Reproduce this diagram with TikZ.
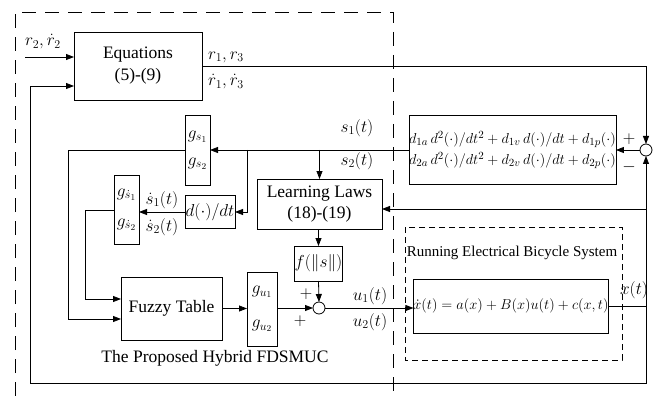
\documentclass[tikz,border=0pt]{standalone}
\usepackage{fontspec}
\setmainfont{Liberation Serif}
\usetikzlibrary{arrows.meta}
\begin{document}
\begin{tikzpicture}[x=1pt,y=-1pt,
  every node/.style={inner sep=0pt,outer sep=0pt,font=\fontsize{17.5}{20}\selectfont},
  blk/.style={draw,line width=0.8pt,fill=white},
  sumc/.style={draw,line width=0.8pt,circle,minimum size=12pt,fill=white},
  conn/.style={line width=0.8pt},
  arr/.style={conn,-{Triangle[length=8pt,width=6pt]}},
  lbl/.style={font=\fontsize{18}{20}\selectfont},
  small/.style={font=\fontsize{15.5}{18}\selectfont}
]
\useasboundingbox (0,0) rectangle (657,396);
% outer dashed region
\draw[conn,dash pattern=on 14pt off 9pt] (15,396) -- (15,12) -- (393,12) -- (393,396);
% system dashed box
\draw[conn,dash pattern=on 6pt off 4pt] (405,227) rectangle (622,360);

% blocks
\node[blk,minimum width=128pt,minimum height=68pt,align=center] (eq) at (138,66) {Equations\\[2pt](5)-(9)};
\node[blk,minimum width=25pt,minimum height=70pt,align=center,lbl] (gs) at (197.5,150) {$g_{s_1}$\\[7pt]$g_{s_2}$};
\node[blk,minimum width=25pt,minimum height=69pt,align=center,lbl] (gsd) at (126.5,209.5) {$g_{\dot s_1}$\\[10pt]$g_{\dot s_2}$};
\node[blk,minimum width=50pt,minimum height=33pt,lbl] (ddt) at (210,212) {$d(\cdot)/dt$};
\node[blk,minimum width=125pt,minimum height=50pt,align=center] (LL) at (319.5,204) {Learning Laws\\[1pt](18)-(19)};
\node[blk,minimum width=203pt,minimum height=69pt,align=left,small] (db) at (512.5,150)
  {$d_{1a}\,d^2(\cdot)/dt^2+d_{1v}\,d(\cdot)/dt+d_{1p}(\cdot)$\\[3pt]$d_{2a}\,d^2(\cdot)/dt^2+d_{2v}\,d(\cdot)/dt+d_{2p}(\cdot)$};
\node[sumc] (s1) at (646,150) {};
\node[blk,minimum width=41pt,minimum height=35pt,lbl] (fb) at (318.5,263.5) {$f(\|s\|)$};
\node[sumc] (s2) at (319,308) {};
\node[blk,minimum width=101pt,minimum height=63pt] (fz) at (171.5,308.5) {Fuzzy Table};
\node[blk,minimum width=30pt,minimum height=74pt,align=center,lbl] (gu) at (262,309) {$g_{u_1}$\\[14pt]$g_{u_2}$};
\node[blk,minimum width=176pt,minimum height=54pt,small] (sys) at (511,306) {$\dot x(t)=a(x)+B(x)u(t)+c(x,t)$};

% coordinates
\coordinate (in1) at (25,57);
\coordinate (eqR) at (646,66);
\coordinate (jx) at (646,306);
\coordinate (jLL) at (646,209);
\coordinate (bR) at (646,383);
\coordinate (bL) at (30,383);
\coordinate (eqIn) at (30,86);
\coordinate (gsL) at (68,150);
\coordinate (j1) at (247,150);
\coordinate (j2) at (319.5,150);
\coordinate (gsdL) at (85,210);

% connectors
\draw[arr] (in1) -- (in1 -| eq.west);
\draw[arr] (eq.east) -- (eqR) -- (s1.north);
\draw[arr] (s1.west) -- (db.east);
\draw[arr] (db.west) -- (gs.east);
\draw[arr] (j1) |- (ddt.east);
\draw[arr] (j2) -- (LL.north);
\draw[arr] (gs.west) -- (gsL) |- (fz.west |- 0,319);
\draw[arr] (ddt.west) -- (gsd.east |- ddt.west);
\draw[arr] (gsd.west |- gsdL) -- (gsdL) |- (fz.west |- 0,299);
\draw[arr] (fz.east) -- (gu.west |- fz.east);
\draw[arr] (gu.east |- s2.west) -- (s2.west);
\draw[arr] (LL.south -| fb.north) -- (fb.north);
\draw[arr] (fb.south) -- (s2.north);
\draw[arr] (s2.east) -- (sys.west |- s2.east);
\draw[conn] (sys.east) -- (jx);
\draw[arr] (jx) -- (s1.south);
\draw[arr] (jLL) -- (jLL -| LL.east);
\draw[arr] (jx) -- (bR) -- (bL) -- (eqIn) -- (eqIn -| eq.west);

% labels
\node[lbl] (lr2) at (43,42) {$r_2,\dot r_2$};
\node[lbl] (lr1) at (226,57) {$r_1,r_3$};
\node[lbl] (lr1d) at (226,82) {$\dot r_1,\dot r_3$};
\node[lbl] (ls1) at (357,128) {$s_1(t)$};
\node[lbl] (ls2) at (357,161) {$s_2(t)$};
\node[lbl] (lp1) at (629,139) {$+$};
\node[lbl] (lm1) at (629,167) {$-$};
\node[lbl] (lsd1) at (162,200) {$\dot s_1(t)$};
\node[lbl] (lsd2) at (162,227) {$\dot s_2(t)$};
\node[lbl] (lp2) at (306,294) {$+$};
\node[lbl] (lp3) at (300,321) {$+$};
\node[lbl] (lu1) at (370,296) {$u_1(t)$};
\node[lbl] (lu2) at (370,322) {$u_2(t)$};
\node[lbl] (lx) at (634,290) {$x(t)$};
\node[font=\fontsize{15}{17}\selectfont] (lsys) at (512,253) {Running Electrical Bicycle System};
\node (lfd) at (215,358) {The Proposed Hybrid FDSMUC};
\end{tikzpicture}
\end{document}
